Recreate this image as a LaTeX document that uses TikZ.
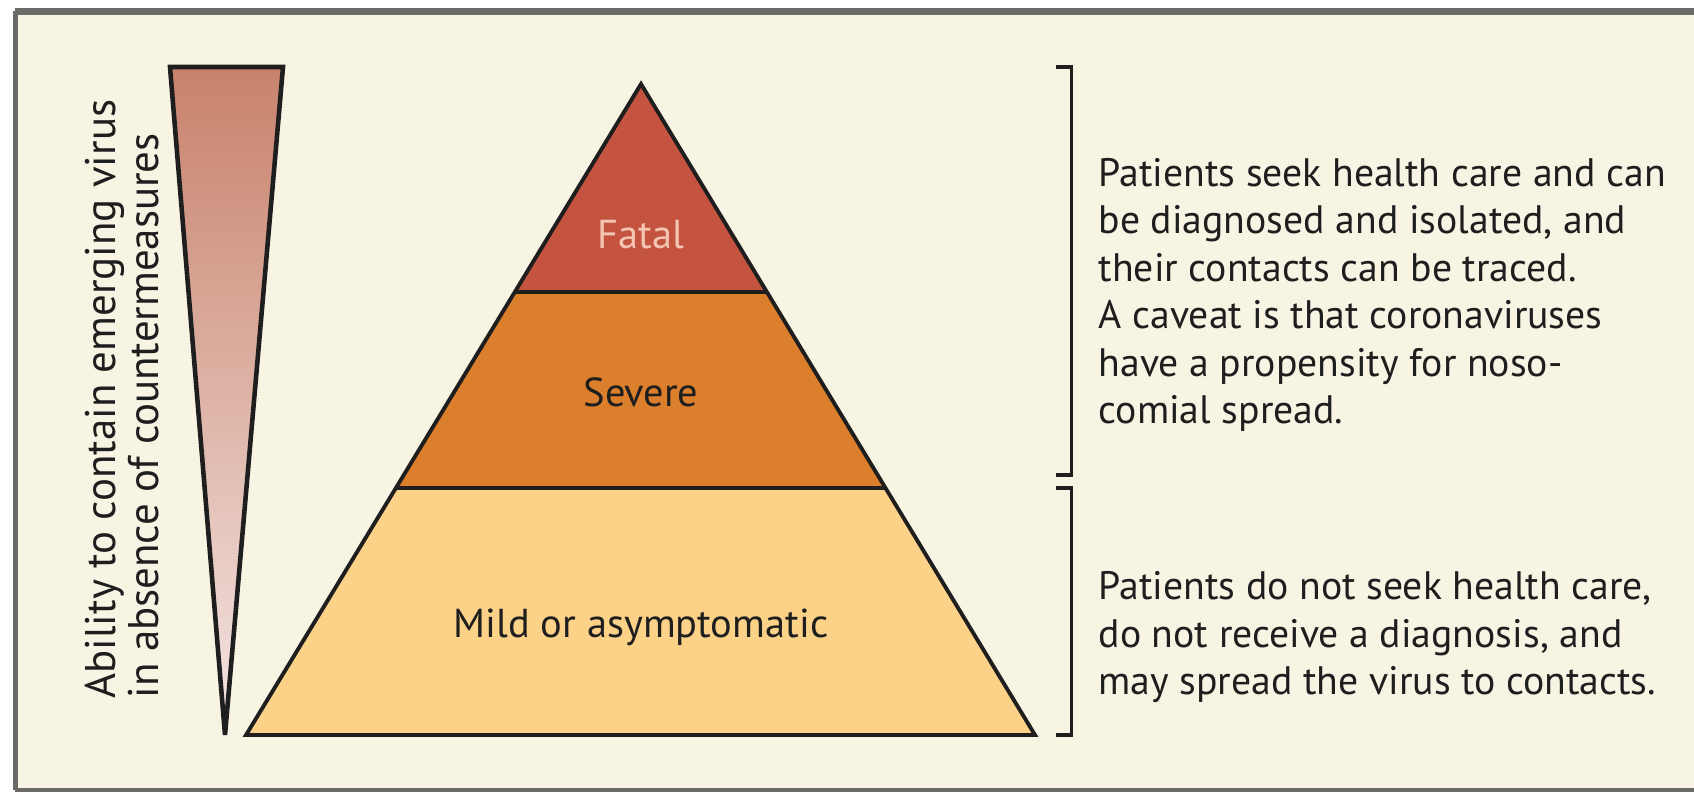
\documentclass[tikz,border=0pt]{standalone}
\usepackage{fontspec}
\setmainfont{PT Sans}
\usepackage{tikz}
\usetikzlibrary{calc}
\definecolor{paper}{HTML}{F8F4E4}
\definecolor{frame}{HTML}{6A6A66}
\definecolor{ink}{HTML}{1E1E1E}
\definecolor{fatal}{HTML}{C4533F}
\definecolor{fataltext}{HTML}{F3C6B4}
\definecolor{severe}{HTML}{DB7F2D}
\definecolor{mild}{HTML}{FCD188}
\definecolor{tapertop}{HTML}{C8826B}
\definecolor{taperbot}{HTML}{F4E6E4}

\begin{document}
\begin{tikzpicture}[x=0.1mm,y=-0.1mm,
  outline/.style={draw=ink,line width=1.1pt},
  lbl/.style={font=\fontsize{11.5}{13}\selectfont,text=ink,inner sep=0pt},
  note/.style={lbl,align=left,anchor=west,font=\fontsize{11.3}{13.5}\selectfont},
  brk/.style={draw=ink,line width=1pt},
]
  \useasboundingbox (0,0) rectangle (1694,792);
  % panel
  \fill[paper] (15,11) rectangle (1694,790);
  \draw[frame,line width=2pt] (1694,11.5)--(15,11.5);
  \draw[frame,line width=1.4pt] (15.5,11)--(15.5,790);
  \draw[frame,line width=0.9pt] (15,790)--(1694,790);

  % taper
  \coordinate (tl) at (170,67);
  \coordinate (tr) at (283,67);
  \coordinate (tip) at (225,735);
  \shade[top color=tapertop,bottom color=taperbot] (tl)--(tr)--(tip)--cycle;
  \draw[outline,line width=1.3pt] (tl)--(tr)--(tip)--cycle;
  \node[lbl,rotate=90,align=left,font=\fontsize{12.2}{11}\selectfont] (ability) at (122,399)
    {Ability to contain emerging virus\\in absence of countermeasures};

  % pyramid
  \coordinate (apex) at (641,84);
  \coordinate (bl) at (246,735);
  \coordinate (br) at (1035,735);
  \coordinate (fl) at ($(apex)!0.319!(bl)$);
  \coordinate (fr) at ($(apex)!0.319!(br)$);
  \coordinate (sl) at ($(apex)!0.621!(bl)$);
  \coordinate (sr) at ($(apex)!0.621!(br)$);
  \fill[fatal] (apex)--(fl)--(fr)--cycle;
  \fill[severe] (fl)--(sl)--(sr)--(fr)--cycle;
  \fill[mild] (sl)--(bl)--(br)--(sr)--cycle;
  \draw[outline] (apex)--(bl)--(br)--cycle;
  \draw[outline] (fl)--(fr);
  \draw[outline] (sl)--(sr);
  \node[lbl,text=fataltext] (fatallbl) at (641,235) {Fatal};
  \node[lbl] (severelbl) at (641,392) {Severe};
  \node[lbl] (mildlbl) at (641,627) {Mild or asymptomatic};

  % brackets
  \draw[brk] (1056,67)-|(1071.5,475)--(1056,475);
  \draw[brk] (1056,488)-|(1071.5,735)--(1056,735);
  \node[note] (seek) at (1098,295)
    {Patients seek health care and can\\be diagnosed and isolated, and\\their contacts can be traced.\\A caveat is that coronaviruses\\have a propensity for noso-\\comial spread.};
  \node[note] (noseek) at (1098,637)
    {Patients do not seek health care,\\do not receive a diagnosis, and\\may spread the virus to contacts.};
\end{tikzpicture}
\end{document}
